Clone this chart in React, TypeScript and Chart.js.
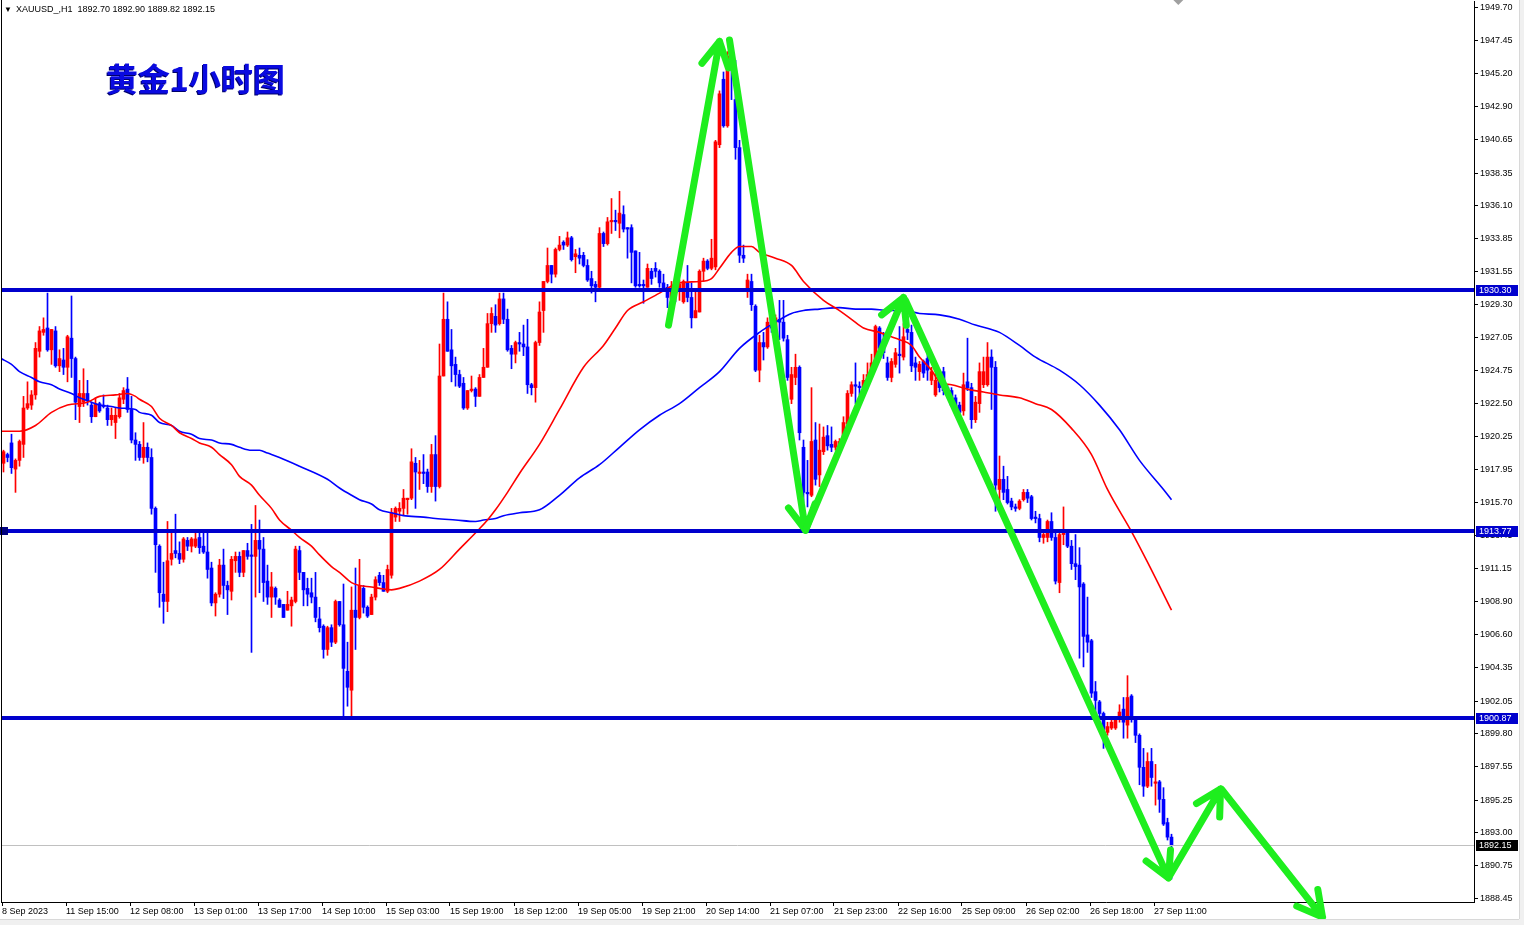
import React, { useEffect, useRef } from 'react';
import { Chart, registerables } from 'chart.js';

Chart.register(...registerables);

// ---------- DATA (XAUUSD H1) ----------
const OPEN: number[] = [
  1918.4, 1919.0, 1919.8, 1918.0, 1918.6, 1919.7, 1922.2, 1922.4, 1923.1, 1926.1,
  1927.4, 1927.7, 1926.2, 1927.5, 1925.1, 1925.5, 1925.0, 1927.0, 1925.6, 1922.3,
  1922.6, 1923.2, 1922.4, 1921.6, 1922.5, 1922.4, 1922.2, 1921.4, 1921.2, 1921.6,
  1922.8, 1923.5, 1922.1, 1920.0, 1919.7, 1918.8, 1919.5, 1918.8, 1915.3, 1912.7,
  1909.4, 1908.9, 1911.8, 1912.4, 1912.2, 1911.8, 1913.1, 1912.7, 1912.7, 1913.3,
  1912.7, 1912.3, 1911.2, 1908.8, 1909.4, 1911.4, 1910.0, 1909.6, 1911.7, 1912.0,
  1910.9, 1912.4, 1912.1, 1912.0, 1913.1, 1912.5, 1910.3, 1909.2, 1909.8, 1909.0,
  1908.7, 1908.3, 1908.6, 1908.9, 1912.4, 1910.9, 1909.8, 1909.5, 1909.2, 1907.7,
  1907.2, 1905.6, 1907.1, 1906.1, 1908.9, 1907.3, 1904.1, 1902.8, 1908.3, 1907.8,
  1909.8, 1908.5, 1908.0, 1909.2, 1910.7, 1910.2, 1909.6, 1910.7, 1914.7, 1915.1,
  1915.3, 1915.9, 1916.0, 1918.4, 1917.7, 1917.8, 1917.8, 1916.8, 1919.0, 1916.8,
  1924.4, 1928.3, 1926.2, 1925.2, 1924.5, 1923.9, 1922.2, 1923.4, 1923.5, 1923.0,
  1924.3, 1925.0, 1928.0, 1928.5, 1928.0, 1929.7, 1928.3, 1926.3, 1925.9, 1926.7,
  1926.6, 1926.4, 1923.8, 1923.6, 1926.7, 1928.9, 1930.9, 1932.0, 1931.4, 1933.1,
  1933.6, 1933.4, 1933.9, 1932.6, 1932.7, 1932.7, 1932.0, 1931.1, 1930.7, 1930.5,
  1934.2, 1933.5, 1935.0, 1935.1, 1934.9, 1935.5, 1934.6, 1934.6, 1933.0, 1930.7,
  1930.7, 1930.5, 1931.6, 1931.8, 1931.6, 1930.8, 1930.5, 1929.7, 1930.9, 1930.2,
  1929.5, 1930.8, 1929.8, 1928.4, 1928.8, 1931.6, 1932.3, 1931.8, 1931.9, 1940.3,
  1944.8, 1941.6, 1946.3, 1943.4, 1940.1, 1932.7, 1930.4, 1930.9, 1929.2, 1924.8,
  1926.7, 1926.4, 1928.4, 1927.6, 1928.3, 1928.1, 1926.9, 1922.8, 1924.3, 1925.0,
  1919.5, 1916.4, 1916.2, 1920.0, 1917.6, 1919.2, 1920.3, 1919.7, 1919.5, 1919.6,
  1919.9, 1921.1, 1923.2, 1923.8, 1923.7, 1923.6, 1924.1, 1924.5, 1925.3, 1927.7,
  1926.9, 1925.3, 1924.3, 1925.2, 1925.9, 1925.7, 1927.6, 1927.4, 1925.3, 1924.7,
  1925.4, 1925.6, 1924.1, 1923.1, 1924.3, 1924.7, 1923.6, 1923.4, 1922.9, 1922.4,
  1922.0, 1924.0, 1923.6, 1921.4, 1922.5, 1923.8, 1923.8, 1925.7, 1925.0, 1916.6,
  1917.3, 1916.6, 1915.8, 1915.4, 1915.3, 1915.9, 1916.4, 1916.1, 1914.7, 1914.6,
  1913.3, 1913.3, 1914.4, 1913.3, 1910.2, 1913.5, 1913.6, 1912.7, 1911.5, 1911.4,
  1910.1, 1906.6, 1906.2, 1902.7, 1902.0, 1901.2, 1899.9, 1900.2, 1900.2, 1900.8,
  1901.5, 1900.4, 1902.4, 1900.8, 1899.7, 1897.5, 1896.2, 1897.9, 1896.4, 1896.5,
  1895.3, 1893.7, 1892.7,
];
const HIGH: number[] = [
  1919.3, 1919.1, 1920.4, 1918.7, 1920.0, 1923.0, 1924.0, 1923.4, 1926.7, 1927.8,
  1928.4, 1930.1, 1927.6, 1927.8, 1926.2, 1926.3, 1927.2, 1929.9, 1925.7, 1924.1,
  1924.9, 1924.1, 1922.6, 1922.9, 1922.6, 1923.1, 1922.4, 1922.2, 1922.2, 1923.2,
  1923.6, 1924.3, 1923.0, 1920.5, 1919.9, 1921.2, 1919.8, 1919.4, 1915.4, 1912.8,
  1911.6, 1914.4, 1913.6, 1914.9, 1913.0, 1913.3, 1913.3, 1913.3, 1913.6, 1913.6,
  1913.6, 1913.6, 1911.6, 1909.5, 1911.8, 1912.5, 1910.3, 1912.0, 1912.3, 1912.3,
  1912.4, 1912.9, 1914.2, 1915.5, 1914.5, 1913.3, 1911.4, 1910.9, 1909.9, 1909.1,
  1908.7, 1909.6, 1909.2, 1912.7, 1912.7, 1910.9, 1910.5, 1910.5, 1910.9, 1908.5,
  1907.3, 1907.2, 1907.3, 1909.0, 1908.9, 1910.1, 1906.1, 1909.9, 1911.2, 1911.8,
  1910.0, 1908.6, 1909.4, 1910.6, 1910.9, 1910.7, 1911.4, 1915.3, 1915.4, 1915.7,
  1916.6, 1916.0, 1919.4, 1918.8, 1918.6, 1919.0, 1918.0, 1919.7, 1920.3, 1926.6,
  1930.1, 1929.5, 1927.6, 1925.7, 1924.8, 1924.3, 1923.4, 1924.4, 1923.6, 1924.5,
  1926.3, 1928.7, 1929.1, 1929.3, 1930.1, 1930.1, 1929.0, 1926.5, 1926.8, 1927.4,
  1927.9, 1928.3, 1923.9, 1926.8, 1929.5, 1930.9, 1933.2, 1932.0, 1933.2, 1934.0,
  1933.7, 1934.3, 1934.0, 1933.1, 1933.2, 1932.9, 1932.4, 1931.6, 1930.9, 1934.6,
  1934.3, 1935.3, 1936.6, 1935.8, 1937.1, 1936.1, 1934.6, 1934.8, 1933.0, 1932.9,
  1931.0, 1932.1, 1931.8, 1932.2, 1931.7, 1931.4, 1930.7, 1930.9, 1931.2, 1931.0,
  1931.0, 1932.0, 1930.8, 1930.2, 1931.7, 1932.5, 1932.4, 1933.8, 1940.6, 1944.0,
  1945.3, 1946.7, 1946.5, 1946.1, 1940.6, 1933.4, 1931.4, 1931.4, 1929.3, 1927.2,
  1927.4, 1928.4, 1928.9, 1928.6, 1929.6, 1929.6, 1927.2, 1925.0, 1925.9, 1925.1,
  1920.0, 1918.6, 1923.6, 1921.2, 1921.1, 1920.9, 1921.0, 1920.9, 1920.0, 1920.1,
  1921.6, 1923.4, 1924.0, 1925.3, 1924.0, 1924.5, 1925.3, 1925.9, 1927.9, 1927.8,
  1927.4, 1925.7, 1925.6, 1926.3, 1927.8, 1928.0, 1927.9, 1927.9, 1925.7, 1925.4,
  1925.5, 1925.9, 1925.0, 1924.6, 1924.8, 1925.0, 1923.8, 1923.6, 1923.1, 1922.6,
  1924.6, 1927.0, 1923.9, 1923.0, 1925.3, 1925.7, 1926.7, 1926.2, 1925.4, 1918.9,
  1918.2, 1917.5, 1916.0, 1915.6, 1915.9, 1916.6, 1916.6, 1916.2, 1915.1, 1914.9,
  1913.8, 1914.5, 1915.0, 1913.6, 1913.6, 1915.4, 1913.8, 1913.1, 1913.5, 1912.6,
  1910.2, 1909.2, 1906.3, 1903.4, 1902.1, 1901.3, 1900.6, 1900.9, 1900.9, 1901.8,
  1902.3, 1903.8, 1902.5, 1900.8, 1899.8, 1898.8, 1898.5, 1898.8, 1897.7, 1896.6,
  1896.1, 1894.0, 1892.9,
];
const LOW: number[] = [
  1917.8, 1918.5, 1917.7, 1916.4, 1918.2, 1918.8, 1922.1, 1922.1, 1922.8, 1925.7,
  1927.2, 1926.1, 1925.2, 1925.0, 1924.7, 1924.5, 1924.0, 1924.3, 1921.4, 1921.2,
  1922.3, 1922.4, 1921.2, 1921.6, 1921.9, 1922.2, 1921.0, 1921.0, 1920.1, 1921.5,
  1922.5, 1921.9, 1919.8, 1918.6, 1918.6, 1918.4, 1918.5, 1914.9, 1910.9, 1908.5,
  1907.4, 1908.2, 1911.4, 1911.9, 1911.5, 1911.6, 1912.4, 1912.3, 1912.6, 1912.2,
  1912.2, 1910.5, 1908.6, 1907.9, 1909.2, 1909.1, 1908.0, 1909.0, 1910.9, 1910.6,
  1910.6, 1911.8, 1905.4, 1909.2, 1909.5, 1908.9, 1908.7, 1907.8, 1908.7, 1908.5,
  1907.8, 1908.3, 1907.2, 1908.8, 1910.4, 1908.6, 1908.6, 1908.8, 1907.5, 1906.8,
  1905.0, 1905.2, 1905.8, 1906.0, 1907.2, 1900.9, 1901.7, 1900.9, 1905.6, 1907.7,
  1908.1, 1907.8, 1908.0, 1909.0, 1910.0, 1909.6, 1909.5, 1910.5, 1914.4, 1914.4,
  1914.8, 1914.9, 1915.9, 1915.3, 1916.6, 1917.0, 1916.4, 1916.4, 1915.8, 1916.7,
  1924.4, 1926.1, 1924.0, 1923.7, 1923.6, 1922.1, 1922.1, 1923.3, 1922.3, 1923.0,
  1924.3, 1925.0, 1927.4, 1927.4, 1927.9, 1928.0, 1926.1, 1924.9, 1925.3, 1926.1,
  1925.8, 1923.2, 1923.1, 1922.6, 1926.5, 1927.4, 1930.8, 1930.8, 1931.2, 1933.0,
  1933.1, 1933.3, 1932.3, 1931.5, 1932.1, 1931.9, 1930.9, 1930.1, 1929.5, 1930.4,
  1933.3, 1933.4, 1934.2, 1934.4, 1933.9, 1934.3, 1932.5, 1930.8, 1930.5, 1930.5,
  1929.4, 1930.5, 1930.7, 1931.2, 1930.5, 1930.2, 1929.1, 1929.6, 1929.5, 1929.6,
  1929.4, 1929.5, 1927.7, 1928.4, 1928.8, 1930.9, 1931.7, 1931.7, 1931.7, 1940.1,
  1941.5, 1941.5, 1943.4, 1939.3, 1932.2, 1932.2, 1929.8, 1928.9, 1924.7, 1924.0,
  1925.5, 1926.3, 1927.4, 1927.2, 1926.9, 1926.8, 1924.1, 1922.5, 1923.8, 1920.0,
  1915.7, 1915.4, 1916.1, 1916.9, 1916.8, 1919.0, 1919.3, 1919.2, 1919.3, 1919.5,
  1919.8, 1921.0, 1923.0, 1922.5, 1923.1, 1923.4, 1924.0, 1924.3, 1925.2, 1926.1,
  1925.6, 1924.1, 1924.0, 1925.0, 1924.6, 1925.5, 1926.9, 1924.7, 1924.1, 1924.1,
  1924.3, 1924.1, 1923.8, 1923.0, 1923.3, 1923.1, 1922.9, 1922.3, 1922.1, 1921.6,
  1921.7, 1923.4, 1920.8, 1921.2, 1921.9, 1923.6, 1923.7, 1922.1, 1915.1, 1915.1,
  1915.9, 1915.6, 1915.2, 1915.1, 1915.2, 1915.8, 1915.7, 1914.5, 1914.3, 1913.0,
  1912.9, 1913.0, 1913.1, 1910.1, 1909.5, 1912.8, 1912.6, 1911.1, 1910.4, 1905.0,
  1904.4, 1905.4, 1902.3, 1901.3, 1901.0, 1898.8, 1899.7, 1900.1, 1900.1, 1900.6,
  1899.5, 1899.5, 1900.6, 1899.2, 1896.3, 1895.5, 1896.1, 1896.2, 1894.9, 1894.4,
  1893.5, 1892.5, 1889.82,
];
const CLOSE: number[] = [
  1919.2, 1918.8, 1918.1, 1918.6, 1919.9, 1922.2, 1922.5, 1923.1, 1926.3, 1927.5,
  1927.6, 1926.2, 1927.6, 1925.1, 1925.6, 1925.0, 1927.1, 1925.6, 1922.6, 1923.2,
  1923.2, 1922.7, 1921.6, 1922.5, 1922.0, 1922.3, 1921.4, 1921.7, 1921.7, 1922.9,
  1923.4, 1922.1, 1920.0, 1919.7, 1918.8, 1919.5, 1918.8, 1915.3, 1912.8, 1909.5,
  1908.9, 1911.7, 1912.2, 1912.2, 1911.8, 1913.2, 1912.7, 1913.2, 1913.2, 1912.6,
  1912.3, 1911.1, 1908.8, 1909.4, 1911.4, 1910.0, 1909.7, 1911.8, 1912.0, 1910.9,
  1912.4, 1912.0, 1912.0, 1913.1, 1912.5, 1910.2, 1909.2, 1909.9, 1909.2, 1908.5,
  1907.8, 1908.7, 1909.0, 1912.5, 1910.9, 1909.7, 1909.4, 1909.2, 1907.8, 1907.1,
  1905.6, 1907.1, 1906.1, 1908.9, 1907.3, 1904.3, 1903.0, 1908.3, 1907.8, 1910.0,
  1908.5, 1907.9, 1909.2, 1910.4, 1910.2, 1909.6, 1911.1, 1915.0, 1915.3, 1915.3,
  1916.0, 1916.0, 1918.5, 1917.8, 1917.8, 1917.7, 1916.8, 1919.0, 1916.8, 1924.4,
  1928.3, 1926.1, 1925.1, 1924.5, 1923.7, 1922.2, 1923.4, 1923.5, 1923.0, 1924.3,
  1925.0, 1928.0, 1928.7, 1927.9, 1929.7, 1928.3, 1926.2, 1925.9, 1926.7, 1926.6,
  1926.4, 1923.8, 1923.6, 1926.7, 1928.8, 1930.9, 1932.0, 1931.4, 1933.1, 1933.4,
  1933.4, 1933.9, 1932.4, 1932.8, 1932.5, 1932.0, 1931.0, 1930.6, 1930.5, 1934.2,
  1933.5, 1935.0, 1935.1, 1935.0, 1935.6, 1934.5, 1934.5, 1932.9, 1930.6, 1930.6,
  1930.6, 1931.8, 1931.1, 1931.6, 1930.8, 1930.4, 1929.8, 1930.4, 1930.4, 1930.7,
  1930.9, 1929.8, 1928.4, 1928.9, 1931.6, 1932.3, 1931.8, 1932.5, 1940.5, 1943.8,
  1941.6, 1946.4, 1945.6, 1940.1, 1932.7, 1932.5, 1931.0, 1929.3, 1924.8, 1926.7,
  1926.4, 1928.1, 1927.7, 1928.4, 1928.1, 1927.0, 1924.3, 1924.5, 1925.0, 1920.5,
  1916.4, 1916.3, 1919.9, 1917.3, 1919.3, 1920.2, 1919.6, 1919.5, 1919.9, 1919.9,
  1921.2, 1923.2, 1923.8, 1923.7, 1923.6, 1924.1, 1924.5, 1925.3, 1927.8, 1926.3,
  1926.0, 1924.3, 1925.4, 1926.0, 1925.8, 1927.1, 1927.4, 1925.1, 1925.0, 1925.2,
  1924.6, 1924.8, 1924.7, 1924.1, 1923.6, 1923.4, 1923.3, 1922.4, 1922.3, 1921.9,
  1923.8, 1923.6, 1921.4, 1922.6, 1924.7, 1924.7, 1925.7, 1925.0, 1916.9, 1917.3,
  1916.4, 1915.7, 1915.4, 1915.3, 1915.8, 1916.4, 1916.0, 1914.6, 1914.6, 1913.3,
  1913.5, 1914.4, 1913.3, 1910.3, 1913.5, 1913.6, 1912.7, 1911.5, 1911.3, 1909.9,
  1906.5, 1906.1, 1902.6, 1902.1, 1901.2, 1900.1, 1900.3, 1900.6, 1900.8, 1901.3,
  1900.6, 1902.3, 1900.8, 1899.7, 1897.5, 1896.2, 1897.9, 1896.8, 1896.5, 1895.3,
  1893.6, 1892.7, 1892.15,
];

// Moving averages (sampled: bar index / price)
const RED_MA_X: number[] = [-0.6, 4, 8, 12, 16, 21, 24, 28, 31, 33, 34, 37, 39, 42, 44, 47, 49, 52, 54, 57, 59, 62, 64, 67, 69, 72, 74, 77, 79, 82, 84, 87, 89, 92, 94, 97, 99, 104, 109, 114, 119, 121, 123, 126, 129, 134, 139, 145, 150, 153, 156, 160, 164, 169, 174, 177, 179, 182, 184, 187, 189, 193, 197, 200, 205, 209, 212, 215, 219, 222, 224, 227, 229, 232, 234, 237, 241, 245, 249, 254, 258, 262, 267, 272, 276, 282, 286, 292];
const RED_MA_Y: number[] = [1920.6, 1920.6, 1921.0, 1921.9, 1922.4, 1922.6, 1923.0, 1923.1, 1923.2, 1923.0, 1922.8, 1922.3, 1921.5, 1921.0, 1920.5, 1920.1, 1919.8, 1919.5, 1919.0, 1918.3, 1917.5, 1916.9, 1916.2, 1915.3, 1914.5, 1913.8, 1913.3, 1912.7, 1912.1, 1911.3, 1910.9, 1910.2, 1910.0, 1909.9, 1909.8, 1909.7, 1909.8, 1910.3, 1911.1, 1912.5, 1913.9, 1914.5, 1915.2, 1916.4, 1917.7, 1919.7, 1922.1, 1925.0, 1926.5, 1927.7, 1928.9, 1929.5, 1930.1, 1930.8, 1930.9, 1931.1, 1931.8, 1932.9, 1933.3, 1933.3, 1932.9, 1932.5, 1932.0, 1930.9, 1929.6, 1928.9, 1928.3, 1927.7, 1927.4, 1927.1, 1926.9, 1926.5, 1925.7, 1924.8, 1924.0, 1923.8, 1923.5, 1923.3, 1923.1, 1922.9, 1922.5, 1922.1, 1920.8, 1919.0, 1916.6, 1913.7, 1911.6, 1908.3];
const BLUE_MA_X: number[] = [-0.6, 2, 4, 7, 9, 12, 14, 17, 19, 22, 24, 27, 29, 33, 34, 37, 39, 42, 44, 47, 49, 52, 54, 57, 59, 62, 64, 66, 69, 74, 81, 84, 87, 89, 92, 94, 97, 100, 105, 108, 113, 118, 120, 123, 125, 129, 134, 139, 144, 149, 154, 159, 164, 169, 174, 179, 184, 189, 193, 197, 200, 204, 209, 213, 217, 221, 225, 229, 234, 239, 243, 247, 249, 254, 258, 264, 269, 274, 279, 284, 290, 292];
const BLUE_MA_Y: number[] = [1925.6, 1925.2, 1924.7, 1924.3, 1924.0, 1923.8, 1923.5, 1923.2, 1922.9, 1922.6, 1922.4, 1922.3, 1922.2, 1922.1, 1921.9, 1921.7, 1921.2, 1921.0, 1920.6, 1920.4, 1920.1, 1920.0, 1919.8, 1919.7, 1919.5, 1919.3, 1919.3, 1919.1, 1918.8, 1918.2, 1917.3, 1916.7, 1916.2, 1915.9, 1915.6, 1915.2, 1915.0, 1914.8, 1914.7, 1914.6, 1914.5, 1914.4, 1914.5, 1914.6, 1914.8, 1915.0, 1915.2, 1916.2, 1917.4, 1918.3, 1919.5, 1920.7, 1921.7, 1922.5, 1923.6, 1924.7, 1926.3, 1927.4, 1928.1, 1928.7, 1928.9, 1929.0, 1929.1, 1929.0, 1929.0, 1928.9, 1928.9, 1928.7, 1928.6, 1928.3, 1927.9, 1927.6, 1927.4, 1926.5, 1925.7, 1924.8, 1923.8, 1922.4, 1920.7, 1918.6, 1916.6, 1915.9];

const DATE_LABELS: string[] = [
  '8 Sep 2023', '11 Sep 15:00', '12 Sep 08:00', '13 Sep 01:00', '13 Sep 17:00', '14 Sep 10:00',
  '15 Sep 03:00', '15 Sep 19:00', '18 Sep 12:00', '19 Sep 05:00', '19 Sep 21:00', '20 Sep 14:00',
  '21 Sep 07:00', '21 Sep 23:00', '22 Sep 16:00', '25 Sep 09:00', '26 Sep 02:00', '26 Sep 18:00',
  '27 Sep 11:00',
];
const Y_TICKS: number[] = [
  1888.45, 1890.75, 1893.0, 1895.25, 1897.55, 1899.8, 1902.05, 1904.35, 1906.6, 1908.9,
  1911.15, 1913.45, 1915.7, 1917.95, 1920.25, 1922.5, 1924.75, 1927.05, 1929.3, 1931.55,
  1933.85, 1936.1, 1938.35, 1940.65, 1942.9, 1945.2, 1947.45, 1949.7,
];
const LEVELS: number[] = [1930.3, 1913.77, 1900.87];
const LAST_PRICE = 1892.15;

// Hand-drawn green arrows (bar index / price)
const ARROW_FROM_X: number[] = [166.25, 181.5, 200.5, 225.5, 291.25, 304.5];
const ARROW_FROM_Y: number[] = [1927.9, 1947.5, 1913.8, 1929.6, 1889.9, 1896.0];
const ARROW_TO_X: number[] = [179, 200.5, 225, 291.25, 304.25, 329.75];
const ARROW_TO_Y: number[] = [1947.4, 1913.8, 1929.8, 1889.9, 1896.0, 1887.2];

const TITLE = '黄金1小时图';
const HEADER = 'XAUUSD_,H1  1892.70 1892.90 1889.82 1892.15';

const UP = '#FF0000';
const DOWN = '#0000FF';
const FONT = "'Liberation Sans', Arial, sans-serif";

const overlayPlugin = {
  id: 'mt4overlay',
  beforeDraw(chart: any) {
    const { ctx, width, height } = chart;
    ctx.save();
    ctx.fillStyle = '#FFFFFF';
    ctx.fillRect(0, 0, width, height);
    ctx.restore();
  },
  afterDatasetsDraw(chart: any) {
    const { ctx, chartArea: a, scales } = chart;
    const y = scales.y;
    ctx.save();
    const py = Math.round(y.getPixelForValue(LAST_PRICE)) + 0.5;
    ctx.strokeStyle = '#C0C0C0';
    ctx.lineWidth = 1;
    ctx.beginPath();
    ctx.moveTo(a.left, py);
    ctx.lineTo(a.right, py);
    ctx.stroke();
    ctx.strokeStyle = '#0000CD';
    ctx.lineWidth = 4;
    LEVELS.forEach((v) => {
      const yy = Math.round(y.getPixelForValue(v));
      ctx.beginPath();
      ctx.moveTo(a.left, yy);
      ctx.lineTo(a.right, yy);
      ctx.stroke();
    });
    // small object handle on the middle level
    const ym = Math.round(y.getPixelForValue(LEVELS[1]));
    ctx.fillStyle = '#000080';
    ctx.fillRect(0, ym - 4, 8, 8);
    ctx.restore();
  },
  afterDraw(chart: any) {
    const { ctx, chartArea: a, scales, width, height } = chart;
    const x = scales.x;
    const y = scales.y;
    ctx.save();
    // left frame
    ctx.fillStyle = '#000000';
    ctx.fillRect(1, 0, 1, a.bottom);
    // arrows
    ctx.strokeStyle = '#1EEE1E';
    ctx.lineWidth = 7;
    ctx.lineCap = 'round';
    ctx.lineJoin = 'round';
    for (let k = 0; k < ARROW_FROM_X.length; k++) {
      const x0 = x.getPixelForValue(ARROW_FROM_X[k]);
      const y0 = y.getPixelForValue(ARROW_FROM_Y[k]);
      const x1 = x.getPixelForValue(ARROW_TO_X[k]);
      const y1 = y.getPixelForValue(ARROW_TO_Y[k]);
      ctx.beginPath();
      ctx.moveTo(x0, y0);
      ctx.lineTo(x1, y1);
      const ang = Math.atan2(y1 - y0, x1 - x0);
      const L = 28;
      const spread = 0.5;
      ctx.moveTo(x1, y1);
      ctx.lineTo(x1 - L * Math.cos(ang - spread), y1 - L * Math.sin(ang - spread));
      ctx.moveTo(x1, y1);
      ctx.lineTo(x1 - L * Math.cos(ang + spread), y1 - L * Math.sin(ang + spread));
      ctx.stroke();
    }
    // price boxes on the right axis
    ctx.font = `9px ${FONT}`;
    ctx.textBaseline = 'middle';
    ctx.textAlign = 'left';
    const box = (v: number, bg: string) => {
      const yy = Math.round(y.getPixelForValue(v));
      ctx.fillStyle = bg;
      ctx.fillRect(a.right + 2, yy - 5, 42, 11);
      ctx.fillStyle = '#FFFFFF';
      ctx.fillText(v.toFixed(2), a.right + 5, yy + 0.5);
    };
    LEVELS.forEach((v) => box(v, '#0000CD'));
    box(LAST_PRICE, '#000000');
    // chart shift marker
    const sx = x.getPixelForValue(OPEN.length + 0.7);
    ctx.fillStyle = '#A0A0A0';
    ctx.beginPath();
    ctx.moveTo(sx - 5, 0);
    ctx.lineTo(sx + 5, 0);
    ctx.lineTo(sx, 5);
    ctx.closePath();
    ctx.fill();
    // window borders
    ctx.fillStyle = '#F0F0F0';
    ctx.fillRect(width - 5, 0, 5, height);
    ctx.fillRect(0, height - 6, width, 6);
    ctx.fillStyle = '#D8D8D8';
    ctx.fillRect(width - 5, 0, 1, height - 6);
    ctx.fillRect(0, height - 6, width - 5, 1);
    ctx.restore();
  },
};

export default function App() {
  const canvasRef = useRef<HTMLCanvasElement | null>(null);

  useEffect(() => {
    document.body.style.margin = '0';
    const canvas = canvasRef.current;
    if (!canvas) return;
    const colors = OPEN.map((o, i) => (CLOSE[i] >= o ? UP : DOWN));
    const bodies = OPEN.map((o, i) => ({ x: i, y: [o, CLOSE[i]] }));
    const wicks = OPEN.map((_, i) => ({ x: i, y: [LOW[i], HIGH[i]] }));

    const chart = new Chart(canvas, {
      type: 'bar',
      data: {
        datasets: [
          {
            type: 'line',
            label: 'MA fast',
            data: RED_MA_X.map((v, i) => ({ x: v, y: RED_MA_Y[i] })),
            borderColor: '#FF0000',
            borderWidth: 1.6,
            pointRadius: 0,
            cubicInterpolationMode: 'monotone',
            order: 1,
          },
          {
            type: 'line',
            label: 'MA slow',
            data: BLUE_MA_X.map((v, i) => ({ x: v, y: BLUE_MA_Y[i] })),
            borderColor: '#0000FF',
            borderWidth: 1.6,
            pointRadius: 0,
            cubicInterpolationMode: 'monotone',
            order: 2,
          },
          {
            type: 'bar',
            label: 'body',
            data: bodies as any,
            backgroundColor: colors,
            borderWidth: 0,
            barThickness: 3,
            minBarLength: 1,
            grouped: false,
            order: 3,
          },
          {
            type: 'bar',
            label: 'wick',
            data: wicks as any,
            backgroundColor: colors,
            borderWidth: 0,
            barThickness: 1,
            minBarLength: 1,
            grouped: false,
            order: 4,
          },
        ] as any,
      },
      options: {
        animation: false,
        responsive: false,
        devicePixelRatio: 1,
        events: [],
        layout: { padding: { left: 1, top: 1, right: 0, bottom: 0 } },
        plugins: { legend: { display: false }, tooltip: { enabled: false }, title: { display: false } },
        scales: {
          x: {
            type: 'linear',
            position: 'bottom',
            min: -0.625,
            max: 367.625,
            offset: false,
            grid: { display: true, drawOnChartArea: false, drawTicks: true, tickLength: 4, color: '#000000', offset: false },
            border: { display: true, color: '#000000' },
            ticks: {
              autoSkip: false,
              maxRotation: 0,
              minRotation: 0,
              align: 'start',
              padding: 0,
              color: '#000000',
              font: { family: FONT, size: 9 },
              callback: (_v: any, idx: number) => DATE_LABELS[idx],
            },
            afterBuildTicks: (s: any) => {
              s.ticks = DATE_LABELS.map((_, k) => ({ value: 16 * k - 0.375 }));
            },
            afterFit: (s: any) => {
              s.height = 23;
              s.paddingLeft = 0;
              s.paddingRight = 0;
            },
          },
          y: {
            type: 'linear',
            position: 'right',
            min: 1888.24,
            max: 1950.18,
            grid: { display: true, drawOnChartArea: false, drawTicks: true, tickLength: 4, color: '#000000' },
            border: { display: true, color: '#000000' },
            ticks: {
              autoSkip: false,
              padding: 2,
              color: '#000000',
              font: { family: FONT, size: 9 },
              callback: (v: any) => Number(v).toFixed(2),
            },
            afterBuildTicks: (s: any) => {
              s.ticks = Y_TICKS.map((v) => ({ value: v }));
            },
            afterFit: (s: any) => {
              s.width = 50;
              s.paddingTop = 0;
              s.paddingBottom = 0;
            },
          },
        },
      } as any,
      plugins: [overlayPlugin],
    });
    return () => chart.destroy();
  }, []);

  return (
    <div style={{ position: 'relative', width: 1524, height: 925, overflow: 'hidden', background: '#fff' }}>
      <canvas ref={canvasRef} width={1524} height={925} style={{ display: 'block', width: 1524, height: 925 }} />
      <div
        style={{
          position: 'absolute', left: 4, top: 3, font: `9px ${FONT}`, lineHeight: '12px',
          color: '#000', whiteSpace: 'pre', pointerEvents: 'none',
        }}
      >
        <span style={{ fontSize: 8, marginRight: 4 }}>▼</span>
        {HEADER}
      </div>
      <div
        style={{
          position: 'absolute', left: 106, top: 59, fontFamily: "'Noto Sans CJK SC', sans-serif",
          fontWeight: 700, fontSize: 32, lineHeight: '36px', color: '#0A0AE0',
          textShadow: '-1px 1px 0 #00006A', whiteSpace: 'nowrap', pointerEvents: 'none',
        }}
      >
        {TITLE}
      </div>
    </div>
  );
}
